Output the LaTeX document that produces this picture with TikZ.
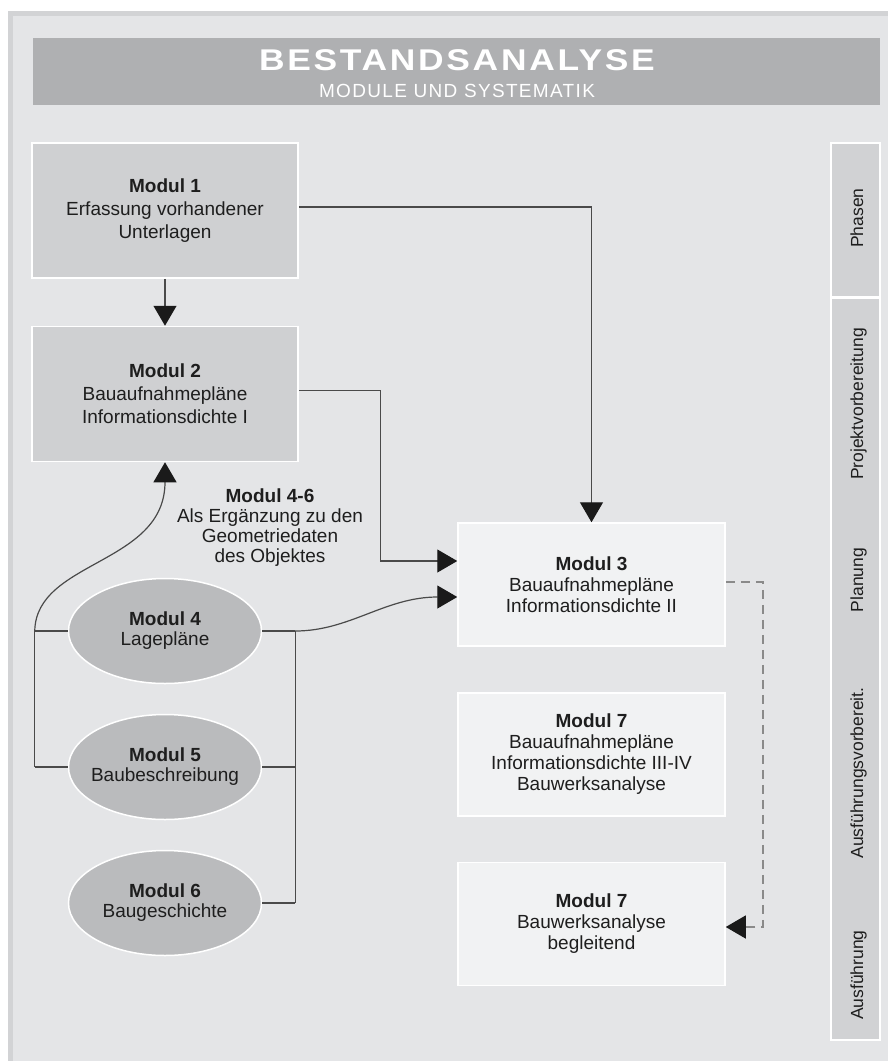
\documentclass[tikz,border=0pt]{standalone}
\usepackage{fontspec}
\setmainfont{Liberation Sans}
\newfontfamily\titlefont[FakeStretch=1.18,LetterSpace=9]{Liberation Sans}
\newfontfamily\subtitlefont[LetterSpace=7]{Liberation Sans}
\usetikzlibrary{arrows.meta,shapes.geometric,calc}
\definecolor{outerc}{HTML}{FFFFFF}
\definecolor{stripc}{HTML}{D2D3D5}
\definecolor{bgc}{HTML}{E4E5E7}
\definecolor{bandc}{HTML}{AFB0B2}
\definecolor{boxa}{HTML}{CFD0D2}
\definecolor{boxb}{HTML}{F1F2F3}
\definecolor{ellc}{HTML}{BABBBD}
\definecolor{phc}{HTML}{D1D2D4}
\definecolor{textc}{HTML}{1E1E1E}
\definecolor{linec}{HTML}{4A4A4A}
\definecolor{arrowc}{HTML}{1A1A1A}
\definecolor{dashc}{HTML}{8A8A8A}
\begin{document}
\begin{tikzpicture}[x=1pt,y=-1pt,
  boxA/.style={draw=white, line width=1.5pt, fill=boxa, minimum width=266pt, minimum height=135pt,
    inner sep=0pt, align=center, text=textc, font=\fontsize{19}{23}\selectfont},
  boxB/.style={draw=white, line width=1.5pt, fill=boxb, minimum width=267pt, minimum height=123pt,
    inner sep=0pt, align=center, text=textc, font=\fontsize{19}{21}\selectfont},
  ell/.style={ellipse, draw=white, line width=1.5pt, fill=ellc, minimum width=193pt, minimum height=105pt,
    inner xsep=-25pt, inner ysep=0pt, align=center, text=textc, font=\fontsize{19}{20}\selectfont},
  lbl/.style={align=center, text=textc, inner sep=0pt, font=\fontsize{19}{20}\selectfont},
  phbox/.style={draw=white, line width=1.5pt, fill=phc, minimum width=49pt, inner sep=0pt},
  phtext/.style={rotate=90, anchor=base, text=textc, inner sep=0pt, font=\fontsize{17.5}{20}\selectfont},
  conn/.style={draw=linec, line width=1.2pt},
  arr/.style={-{Triangle[length=20pt,width=23pt,color=arrowc]}},
  dashline/.style={draw=dashc, line width=1.2pt, dash pattern=on 9pt off 6pt}
]
\useasboundingbox (0,0) rectangle (888,1061);
% background
\fill[outerc] (0,0) rectangle (888,1061);
\fill[stripc] (8,11) rectangle (888,1061);
\fill[bgc] (13,16) rectangle (888,1061);
% header
\fill[bandc] (33,38) rectangle (880,105);
\node[anchor=base, inner sep=0pt, text=white, font=\titlefont\bfseries\fontsize{30}{32}\selectfont] (title) at (457,70) {BESTANDSANALYSE};
\node[anchor=base, inner sep=0pt, text=white, font=\subtitlefont\fontsize{19}{21}\selectfont] (subtitle) at (457,97) {MODULE UND SYSTEMATIK};

% phase column
\node[phbox, minimum height=154pt] (phA) at (855.5,220) {};
\node[phbox, minimum height=742pt] (phB) at (855.5,669) {};
\node[phtext] (p1) at (863,218) {Phasen};
\node[phtext] (p2) at (863,404) {Projektvorbereitung};
\node[phtext] (p3) at (863,580) {Planung};
\node[phtext] (p4) at (863,773) {Ausführungsvorbereit.};
\node[phtext] (p5) at (863,975) {Ausführung};

% modules
\node[boxA] (m1) at (165,210.5) {\textbf{Modul 1}\\Erfassung vorhandener\\Unterlagen};
\node[boxA] (m2) at (165,394) {\textbf{Modul 2}\\Bauaufnahmepläne\\Informationsdichte I};
\node[boxB] (m3) at (591.5,584.5) {\textbf{Modul 3}\\Bauaufnahmepläne\\Informationsdichte II};
\node[boxB] (m7a) at (591.5,754.5) {\textbf{Modul 7}\\Bauaufnahmepläne\\Informationsdichte III-IV\\Bauwerksanalyse};
\node[boxB] (m7b) at (591.5,924) {\textbf{Modul 7}\\Bauwerksanalyse\\begleitend};

\node[ell] (e4) at (165,631) {\textbf{Modul 4}\\Lagepläne};
\node[ell] (e5) at (165,767) {\textbf{Modul 5}\\Baubeschreibung};
\node[ell] (e6) at (165,903) {\textbf{Modul 6}\\Baugeschichte};

\node[lbl] (lab) at (270,528) {\textbf{Modul 4-6}\\Als Ergänzung zu den\\Geometriedaten\\des Objektes};

% connectors
\draw[conn, arr] (m1.south) -- (m2.north);
\draw[conn, arr] ([yshift=3.5pt]m1.east) -| (m3.north);
\draw[conn, arr] ([yshift=3.5pt]m2.east) -- ++(82,0) |- ([yshift=23.5pt]m3.west);

% left bracket
\draw[conn] (e4.west) -- ++(-33,0) coordinate (L4);
\draw[conn] (e5.west) -- ++(-33,0) coordinate (L5);
\draw[conn] (L4) -- (L5);
\draw[conn, arr] (L4) .. controls (36,560) and (165,565) .. (m2.south);

% right bracket
\draw[conn] (e4.east) -- ++(33,0) coordinate (R4);
\draw[conn] (e5.east) -- ++(33,0) coordinate (R5);
\draw[conn] (e6.east) -- ++(33,0) coordinate (R6);
\draw[conn] (R4) -- (R6);
\draw[conn, arr] (R4) .. controls (350,631) and (385,597) .. ([yshift=-12.5pt]m3.west);

% dashed
\coordinate (dc) at (763,582);
\draw[dashline, arr] ([yshift=2.5pt]m3.east) -- (dc) |- ([yshift=-3pt]m7b.east);
\end{tikzpicture}
\end{document}
